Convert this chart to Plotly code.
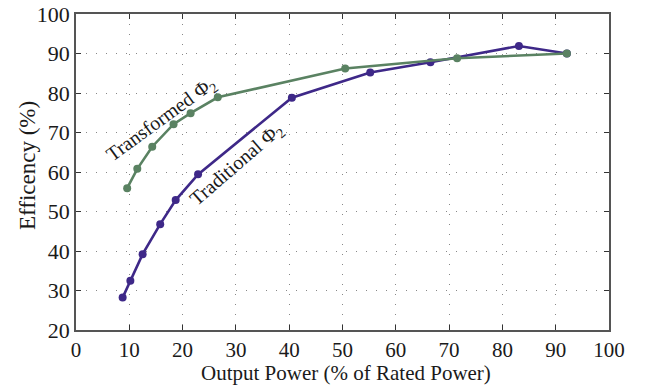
import plotly.graph_objects as go

# Traditional Φ2 efficiency curve
trad_power = [8.75, 10.2, 12.5, 15.8, 18.7, 22.9, 40.5, 55.2, 66.5, 83.1, 92.1]
trad_eff = [28.2, 32.5, 39.2, 46.8, 52.9, 59.4, 78.8, 85.2, 87.8, 91.9, 90.0]

# Transformed Φ2 efficiency curve
trans_power = [9.6, 11.5, 14.3, 18.3, 21.5, 26.6, 50.5, 71.5, 92.1]
trans_eff = [55.9, 60.8, 66.4, 72.1, 74.9, 78.9, 86.2, 88.8, 90.0]

x_ticks = list(range(0, 101, 10))
y_ticks = list(range(20, 101, 10))

PURPLE = "#3e2888"
GREEN = "#5a8262"
FONT = "Liberation Serif, Times New Roman, DejaVu Serif, serif"
TEXT = "#1a1a1a"

fig = go.Figure()
fig.add_trace(go.Scatter(
    x=trad_power, y=trad_eff, mode="lines+markers",
    line=dict(color=PURPLE, width=2.6),
    marker=dict(color=PURPLE, size=8),
    name="Traditional Φ2",
))
fig.add_trace(go.Scatter(
    x=trans_power, y=trans_eff, mode="lines+markers",
    line=dict(color=GREEN, width=2.6),
    marker=dict(color=GREEN, size=8),
    name="Transformed Φ2",
))

axis_common = dict(
    showline=True, linecolor="#555555", linewidth=1.5, mirror="ticks",
    ticks="inside", ticklen=5, tickcolor="#333333",
    showgrid=True, gridcolor="#888888", griddash="1px,9px", gridwidth=1.3,
    zeroline=False, automargin=False,
)

fig.update_xaxes(range=[0, 100], tickvals=x_ticks,
                 tickfont=dict(family=FONT, size=21, color=TEXT), **axis_common)
fig.update_yaxes(range=[20, 100], tickvals=y_ticks,
                 tickfont=dict(family=FONT, size=22, color=TEXT), **axis_common)

# Axis titles
fig.add_annotation(
    x=0.506, y=-0.1345, xref="paper", yref="paper",
    text="Output Power (% of Rated Power)", showarrow=False,
    xanchor="center", yanchor="middle",
    font=dict(family=FONT, size=21, color=TEXT),
)
fig.add_annotation(
    x=-0.092, y=0.522, xref="paper", yref="paper",
    text="Efficency (%)", showarrow=False, textangle=-90,
    xanchor="center", yanchor="middle",
    font=dict(family=FONT, size=23, color=TEXT),
)

# Curve labels
fig.add_annotation(
    x=16.1, y=73.2, xref="x", yref="y", text="Transformed Φ<sub>2</sub>",
    showarrow=False, textangle=-36,
    font=dict(family=FONT, size=20, color=TEXT),
)
fig.add_annotation(
    x=30.2, y=62.0, xref="x", yref="y", text="Traditional Φ<sub>2</sub>",
    showarrow=False, textangle=-41,
    font=dict(family=FONT, size=20, color=TEXT),
)

fig.update_layout(
    width=651, height=385,
    margin=dict(l=76, r=42, t=14, b=55),
    paper_bgcolor="white", plot_bgcolor="white",
    showlegend=False,
)

fig.write_html("out.html")
